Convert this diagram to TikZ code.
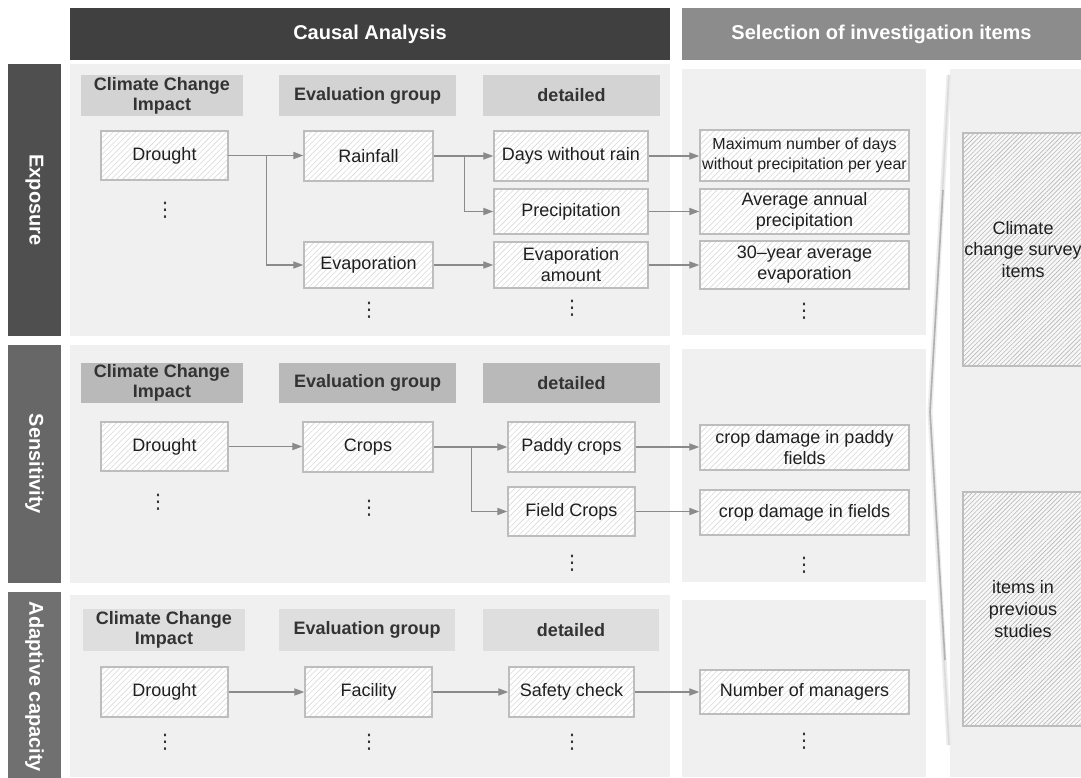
\documentclass[tikz,border=0pt]{standalone}
\usepackage{fontspec}
\setmainfont{Liberation Sans}
\newfontfamily\dotsfont{DejaVu Sans}
\usepackage{tikz}
\usetikzlibrary{arrows.meta, patterns.meta, positioning}
\definecolor{headdark}{HTML}{404040}
\definecolor{headgray}{HTML}{8C8C8C}
\definecolor{panelgray}{HTML}{F0F0F0}
\definecolor{linegray}{HTML}{8A8A8A}
\definecolor{boxline}{HTML}{BDBDBD}
\definecolor{labexp}{HTML}{4F4F4F}
\definecolor{labsen}{HTML}{676767}
\definecolor{labada}{HTML}{707070}
\definecolor{colexp}{HTML}{D3D3D3}
\definecolor{colsen}{HTML}{B9B9B9}
\definecolor{colada}{HTML}{DEDEDE}

\begin{document}
\begin{tikzpicture}[x=0.5pt, y=-0.5pt,
    head/.style={rectangle, text=white, font=\fontsize{10}{12}\selectfont\bfseries, minimum height=26pt, inner sep=0pt},
    rowlab/.style={rectangle, rotate=-90, text=white, font=\fontsize{10}{12}\selectfont\bfseries, minimum height=26.5pt, inner sep=0pt},
    colhead/.style={rectangle, align=center, text=black!80, font=\fontsize{9}{10}\selectfont\bfseries, inner sep=0pt},
    hbox/.style={rectangle, draw=boxline, line width=0.75pt, preaction={fill=white}, pattern={Lines[angle=45,distance=2pt,line width=0.3pt]}, pattern color=black!15, align=center, text=black!88, font=\fontsize{9}{10.5}\selectfont, inner sep=0pt},
    bigbox/.style={rectangle, draw=boxline, line width=0.75pt, preaction={fill=black!3}, pattern={Lines[angle=45,distance=1.6pt,line width=0.3pt]}, pattern color=black!28, align=center, text=black!88, font=\fontsize{9}{10.8}\selectfont, inner sep=0pt},
    vdots/.style={inner sep=0pt, text=black!80, font=\dotsfont\fontsize{10}{10}\selectfont},
    conn/.style={draw=linegray, line width=0.6pt, -{Triangle[length=5pt,width=3.6pt]}}]

    \fill[white] (0,0) rectangle (1081,777);
    \useasboundingbox (0,0) rectangle (1081,777);

    % panels
    \fill[panelgray] (70,64) rectangle (670,336);
    \fill[panelgray] (70,345) rectangle (670,583);
    \fill[panelgray] (70,595) rectangle (670,777);
    \fill[panelgray] (682,69) rectangle (926,335);
    \fill[panelgray] (682,349) rectangle (926,582);
    \fill[panelgray] (682,600) rectangle (926,777);
    \fill[panelgray] (950,69) rectangle (1081,777);
    \draw[black!7, line width=2.5pt] (949,75) -- (930,412) -- (949,745);
    \draw[black!14, line width=0.8pt] (949,75) -- (930,412) -- (949,745);
    \draw[black!30, line width=0.8pt] (943,190) -- (930,412) -- (945,660);

    % headers
    \node (causal) [head, fill=headdark, minimum width=300pt] at (370,34) {Causal Analysis};
    \node (select) [head, fill=headgray, minimum width=199.5pt] at (881.5,34) {Selection of investigation items};

    \node (lexp) [rowlab, fill=labexp, minimum width=136pt] at (34.5,200) {Exposure};
    \node (lsen) [rowlab, fill=labsen, minimum width=119pt] at (34.5,464) {Sensitivity};
    \node (lada) [rowlab, fill=labada, minimum width=95pt] at (34.5,687) {Adaptive capacity};

    % Exposure
    \node (cci1) [colhead, fill=colexp, minimum width=81pt, minimum height=20.5pt] at (162,95.5) {Climate Change\\Impact};
    \node (eg1) [colhead, fill=colexp, minimum width=88.5pt, minimum height=20.5pt] at (367.5,95.5) {Evaluation group};
    \node (det1) [colhead, fill=colexp, minimum width=88.5pt, minimum height=20.5pt] at (571.5,95.5) {detailed};

    \node (drought1) [hbox, minimum width=63.5pt, minimum height=24.5pt] at (164.5,155.5) {Drought};
    \node (rain) [hbox, minimum width=64.5pt, minimum height=25pt] at (368.5,156) {Rainfall};
    \node (evap) [hbox, minimum width=64.5pt, minimum height=23pt] at (368.5,265) {Evaporation};
    \node (days) [hbox, minimum width=77pt, minimum height=25pt] at (571,156) {Days without rain};
    \node (precip) [hbox, minimum width=77pt, minimum height=22.5pt] at (571,211.5) {Precipitation};
    \node (evapamt) [hbox, minimum width=77pt, minimum height=23pt] at (571,265) {Evaporation\\amount};
    \node (maxdays) [hbox, minimum width=104.5pt, minimum height=25.5pt, font=\fontsize{8}{10}\selectfont] at (804.5,155.5) {Maximum number of days\\without precipitation per year};
    \node (avgprec) [hbox, minimum width=104.5pt, minimum height=22.5pt] at (804.5,211.5) {Average annual\\precipitation};
    \node (avgevap) [hbox, minimum width=104.5pt, minimum height=24pt] at (804.5,265) {30--year average\\evaporation};

    \node (dt1a) [vdots] at (165,210) {⋮};
    \node (dt1b) [vdots] at (369,310) {⋮};
    \node (dt1c) [vdots] at (572,308) {⋮};
    \node (dt1d) [vdots] at (804,311) {⋮};

    % Sensitivity
    \node (cci2) [colhead, fill=colsen, minimum width=81pt, minimum height=20pt] at (162,383) {Climate Change\\Impact};
    \node (eg2) [colhead, fill=colsen, minimum width=88.5pt, minimum height=20pt] at (367.5,383) {Evaluation group};
    \node (det2) [colhead, fill=colsen, minimum width=88.5pt, minimum height=20pt] at (571.5,383) {detailed};

    \node (drought2) [hbox, minimum width=63.5pt, minimum height=24.5pt] at (164.5,446.5) {Drought};
    \node (crops) [hbox, minimum width=65pt, minimum height=25pt] at (368,447) {Crops};
    \node (paddy) [hbox, minimum width=63.5pt, minimum height=25pt] at (571.5,447) {Paddy crops};
    \node (field) [hbox, minimum width=63.5pt, minimum height=24.5pt] at (571.5,511.5) {Field Crops};
    \node (cdpaddy) [hbox, minimum width=104.5pt, minimum height=22.5pt] at (804.5,447.5) {crop damage in paddy\\fields};
    \node (cdfield) [hbox, minimum width=104.5pt, minimum height=22.5pt] at (804.5,512.5) {crop damage in fields};

    \node (dt2a) [vdots] at (158,502) {⋮};
    \node (dt2b) [vdots] at (369,508) {⋮};
    \node (dt2c) [vdots] at (572,563) {⋮};
    \node (dt2d) [vdots] at (804,565) {⋮};

    % Adaptive capacity
    \node (cci3) [colhead, fill=colada, minimum width=81pt, minimum height=21pt] at (164,630) {Climate Change\\Impact};
    \node (eg3) [colhead, fill=colada, minimum width=88pt, minimum height=21pt] at (367,630) {Evaluation group};
    \node (det3) [colhead, fill=colada, minimum width=88pt, minimum height=21pt] at (571,630) {detailed};

    \node (drought3) [hbox, minimum width=63.5pt, minimum height=25pt] at (164.5,692) {Drought};
    \node (facility) [hbox, minimum width=63.5pt, minimum height=25pt] at (368.5,692) {Facility};
    \node (safety) [hbox, minimum width=62.5pt, minimum height=25pt] at (571.5,692) {Safety check};
    \node (managers) [hbox, minimum width=104.5pt, minimum height=22pt] at (804.5,692) {Number of managers};

    \node (dt3a) [vdots] at (165,742) {⋮};
    \node (dt3b) [vdots] at (369,742) {⋮};
    \node (dt3c) [vdots] at (572,742) {⋮};
    \node (dt3d) [vdots] at (804,741) {⋮};

    % investigation items
    \node (survey) [bigbox, minimum width=60pt, minimum height=116.5pt] at (1023,249.5) {Climate\\change survey\\items};
    \node (previous) [bigbox, minimum width=60pt, minimum height=117pt] at (1023,609) {items in\\previous\\studies};

    % links
    \draw[conn] (drought1.east) -- (rain.west |- drought1.east);
    \draw[conn] (drought1.east) -- ++(38,0) |- (evap.west);
    \draw[conn] (rain.east) -- (days.west |- rain.east);
    \draw[conn] (rain.east) -- ++(31,0) |- (precip.west);
    \draw[conn] (evap.east) -- (evapamt.west |- evap.east);
    \draw[conn] (days.east) -- (maxdays.west |- days.east);
    \draw[conn] (precip.east) -- (avgprec.west |- precip.east);
    \draw[conn] (evapamt.east) -- (avgevap.west |- evapamt.east);

    \draw[conn] (drought2.east) -- (crops.west |- drought2.east);
    \draw[conn] (crops.east) -- (paddy.west |- crops.east);
    \draw[conn] (crops.east) -- ++(38,0) |- (field.west);
    \draw[conn] (paddy.east) -- (cdpaddy.west |- paddy.east);
    \draw[conn] (field.east) -- (cdfield.west |- field.east);

    \draw[conn] (drought3.east) -- (facility.west |- drought3.east);
    \draw[conn] (facility.east) -- (safety.west |- facility.east);
    \draw[conn] (safety.east) -- (managers.west |- safety.east);
\end{tikzpicture}
\end{document}
